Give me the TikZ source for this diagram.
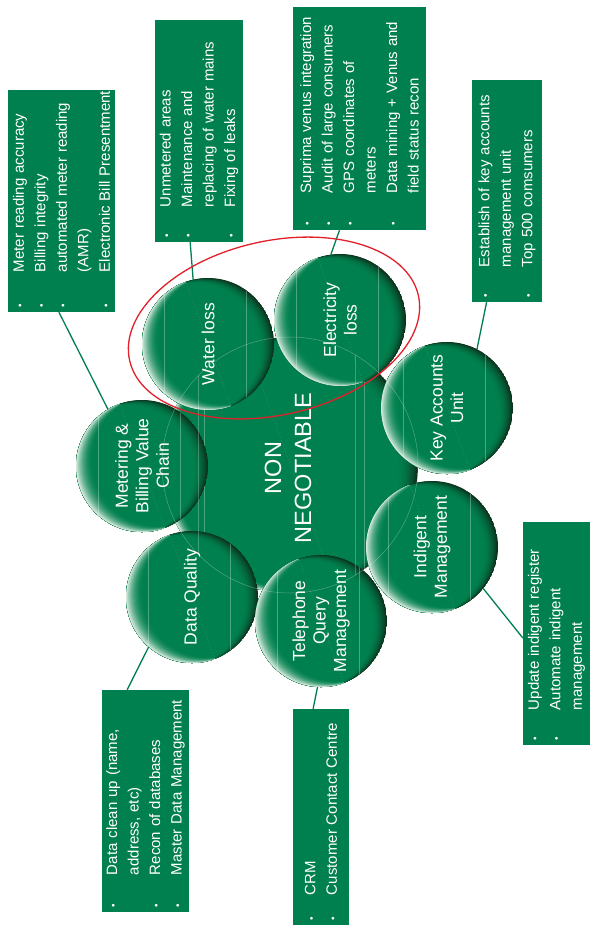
\documentclass[tikz,border=0pt]{standalone}
\usepackage{fontspec}
\setmainfont{Liberation Sans}
\usetikzlibrary{calc}
\definecolor{gmain}{RGB}{0,128,78}
\definecolor{gdark}{RGB}{12,50,28}
\definecolor{glight}{RGB}{214,234,220}
\definecolor{ered}{RGB}{226,32,42}
\newcommand\bl[2]{\mbox{\makebox[#1pt][l]{\raisebox{0.5pt}{\fontsize{10}{10}\selectfont\textbullet}}#2}}
\newcommand\nb[2]{\mbox{\hspace*{#1pt}#2}}
\newcommand\gshade[5]{%
 \begin{scope}
  \clip (#1,#2) circle (#3);
  \foreach \i in {0,...,16}{%
    \pgfmathsetmacro\gk{#4*\i/16}%
    \pgfmathsetmacro\gc{100*(1-\i/16)^2}%
    \fill[gdark!\gc!gmain] ({#1-0.94*\gk},{#2+0.34*\gk}) circle (#3);
  }
  \clip ({#1+0.68*#3},{#2+1.88*#3}) -- ({#1-1.2*#3},{#2+2.56*#3}) -- ({#1-2.56*#3},{#2-1.2*#3}) -- ({#1-0.68*#3},{#2-1.88*#3}) -- cycle;
  \foreach \i in {0,...,16}{%
    \pgfmathsetmacro\gk{#5*\i/16}%
    \pgfmathsetmacro\gc{100*(1-\i/16)^2}%
    \fill[glight!\gc!gmain] ({#1+0.94*\gk},{#2-0.34*\gk}) circle (#3);
  }
 \end{scope}
 \begin{scope}
  \clip (#1,#2) circle (#3);
  \draw[white, opacity=.3, line width=.4pt] ({#1-0.67*#3},{#2-#3}) -- ({#1-0.67*#3},{#2+#3}) ({#1+0.58*#3},{#2-#3}) -- ({#1+0.58*#3},{#2+#3});
 \end{scope}}
\begin{document}
\begin{tikzpicture}[x=1pt,y=-1pt,
  gbox/.style={fill=gmain, text=white, rotate=90, inner xsep=5pt, inner ysep=0pt, align=left, font=\fontsize{15}{21.5}\selectfont, anchor=center},
  ball/.style={circle, minimum size=132pt, inner sep=0pt, outer sep=0pt},
  blab/.style={text=white, rotate=90, align=center, font=\fontsize{17.5}{20.5}\selectfont, inner sep=0pt},
  conn/.style={draw=gmain, line width=1.3pt}]
\fill[white] (0,0) rectangle (590,930);
\useasboundingbox (0,0) rectangle (590,930);

% central circle
\gshade{290}{465}{128}{22}{12}

% small circles
\gshade{208}{344}{66}{16}{18}
\node[ball] (wl) at (208,344) {};
\node[blab] (wlt) at (wl) {Water loss};

\gshade{340}{320}{66}{16}{18}
\node[ball] (el) at (340,320) {};
\node[blab] (elt) at (el) {Electricity\\loss};

\gshade{447}{408}{66}{16}{18}
\node[ball] (ka) at (447,408) {};
\node[blab] (kat) at (ka) {Key Accounts\\Unit};

\gshade{432}{547}{66}{16}{18}
\node[ball] (im) at (432,547) {};
\node[blab] (imt) at (im) {Indigent\\Management};

\gshade{192}{597}{66}{16}{18}
\node[ball] (dq) at (192,597) {};
\node[blab] (dqt) at (dq) {Data Quality};

\gshade{321}{621}{66}{16}{18}
\node[ball] (tq) at (321,621) {};
\node[blab] (tqt) at (tq) {Telephone\\Query\\Management};

\gshade{142}{466}{66}{16}{18}
\node[ball] (mb) at (142,466) {};
\node[blab] (mbt) at (mb) {Metering \&\\Billing Value\\Chain};

% central outline and text
\node[circle, minimum size=256pt, inner sep=0pt, draw=white, draw opacity=.3, line width=.5pt] (nc) at (290,465) {};
\begin{scope}
 \clip (290,465) circle (128);
 \draw[white, opacity=.25, line width=.4pt] (198,330) -- (198,600) (355,330) -- (355,600);
\end{scope}
\node[text=white, rotate=90, align=center, font=\fontsize{23.5}{30}\selectfont, inner sep=0pt] (nt) at (288,468) {NON\\NEGOTIABLE};

% boxes
\node[gbox, minimum height=107pt, text width=212pt] (b1) at (61.5,201)
 {\bl{35}{Meter reading accuracy}\\ \bl{35}{Billing integrity}\\ \bl{35}{automated meter reading}\\ \nb{35}{(AMR)}\\ \bl{35}{Electronic Bill Presentment}};
\node[gbox, minimum height=88pt, text width=212pt] (b2) at (199,131)
 {\bl{30}{Unmetered areas}\\ \bl{30}{Maintenance and}\\ \nb{30}{replacing of water mains}\\ \bl{30}{Fixing of leaks}};
\node[gbox, minimum height=133pt, text width=213pt] (b3) at (359.5,118.5)
 {\bl{32}{Suprima venus integration}\\ \bl{32}{Audit of large consumers}\\ \bl{32}{GPS coordinates of}\\ \nb{32}{meters}\\ \bl{32}{Data mining + Venus and}\\ \nb{32}{field status recon}};
\node[gbox, minimum height=70pt, text width=212pt] (b4) at (507,191)
 {\bl{30}{Establish of key accounts}\\ \nb{30}{management unit}\\ \bl{30}{Top 500 comsumers}};
\node[gbox, minimum height=67pt, text width=213pt] (b5) at (556.5,633.5)
 {\bl{30}{Update indigent register}\\ \bl{30}{Automate indigent}\\ \nb{30}{management}};
\node[gbox, minimum height=56pt, text width=206pt] (b6) at (321,817)
 {\bl{25}{CRM}\\ \bl{25}{Customer Contact Centre}};
\node[gbox, minimum height=87pt, text width=212pt] (b7) at (145.5,801)
 {\bl{32}{Data clean up (name,}\\ \nb{32}{address, etc)}\\ \bl{32}{Recon of databases}\\ \bl{32}{Master Data Management}};

% connectors
\draw[conn] ($(b1.north west)!0.476!(b1.south west)$) -- (mb.121);
\draw[conn] ($(b2.north west)!0.40!(b2.south west)$) -- (wl.103);
\draw[conn] ($(b3.north west)!0.35!(b3.south west)$) -- (el.98);
\draw[conn] ($(b4.north west)!0.21!(b4.south west)$) -- (ka.63);
\draw[conn] ($(b5.north east)!0.52!(b5.north west)$) -- (im.321);
\draw[conn] ($(b6.north east)!0.36!(b6.south east)$) -- (tq.267);
\draw[conn] ($(b7.north east)!0.29!(b7.south east)$) -- (dq.229);

% red ellipse
\draw[ered, line width=1.3pt, rotate around={12.7:(274,328)}] (274,328) ellipse [x radius=148, y radius=87];
\end{tikzpicture}
\end{document}
